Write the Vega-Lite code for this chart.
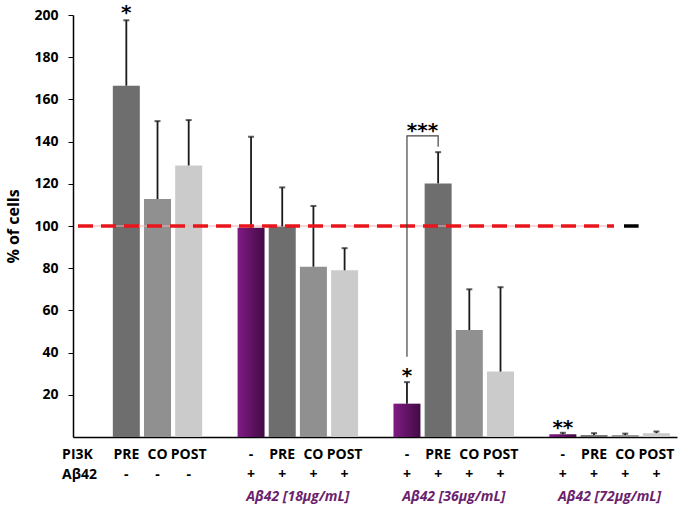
{
  "$schema": "https://vega.github.io/schema/vega-lite/v6.json",
  "width": 604,
  "height": 422,
  "autosize": "none",
  "padding": {"left": 73, "top": 15, "right": 6, "bottom": 72},
  "config": {"view": {"stroke": null}, "font": "Open Sans"},
  "datasets": {
    "bars": [
      {"slot": 1, "cond": "PRE", "value": 166.5, "err": 197.5},
      {"slot": 2, "cond": "CO", "value": 112.8, "err": 149.7},
      {"slot": 3, "cond": "POST", "value": 128.7, "err": 150.2},
      {"slot": 5, "cond": "-", "value": 99.2, "err": 142.3},
      {"slot": 6, "cond": "PRE", "value": 99.8, "err": 118.3},
      {"slot": 7, "cond": "CO", "value": 80.7, "err": 109.5},
      {"slot": 8, "cond": "POST", "value": 79.0, "err": 89.5},
      {"slot": 10, "cond": "-", "value": 15.8, "err": 26.0},
      {"slot": 11, "cond": "PRE", "value": 120.2, "err": 135.0},
      {"slot": 12, "cond": "CO", "value": 50.7, "err": 70.0},
      {"slot": 13, "cond": "POST", "value": 31.0, "err": 71.0},
      {"slot": 15, "cond": "-", "value": 1.3, "err": 2.0},
      {"slot": 16, "cond": "PRE", "value": 0.9, "err": 1.8},
      {"slot": 17, "cond": "CO", "value": 0.9, "err": 1.6},
      {"slot": 18, "cond": "POST", "value": 1.8, "err": 2.6}
    ],
    "labels": [
      {"slot": 1, "pi3k": "PRE", "abeta": "-"},
      {"slot": 2, "pi3k": "CO", "abeta": "-"},
      {"slot": 3, "pi3k": "POST", "abeta": "-"},
      {"slot": 5, "pi3k": "-", "abeta": "+"},
      {"slot": 6, "pi3k": "PRE", "abeta": "+"},
      {"slot": 7, "pi3k": "CO", "abeta": "+"},
      {"slot": 8, "pi3k": "POST", "abeta": "+"},
      {"slot": 10, "pi3k": "-", "abeta": "+"},
      {"slot": 11, "pi3k": "PRE", "abeta": "+"},
      {"slot": 12, "pi3k": "CO", "abeta": "+"},
      {"slot": 13, "pi3k": "POST", "abeta": "+"},
      {"slot": 15, "pi3k": "-", "abeta": "+"},
      {"slot": 16, "pi3k": "PRE", "abeta": "+"},
      {"slot": 17, "pi3k": "CO", "abeta": "+"},
      {"slot": 18, "pi3k": "POST", "abeta": "+"}
    ],
    "headers": [{"slot": -1.06, "pi3k": "PI3K", "abeta": "Aβ42"}],
    "groups": [
      {"slot": 6.5, "label": "Aβ42 [18µg/mL]"},
      {"slot": 11.5, "label": "Aβ42 [36µg/mL]"},
      {"slot": 16.5, "label": "Aβ42 [72µg/mL]"}
    ],
    "stars": [
      {"slot": 1, "level": 201, "text": "*"},
      {"slot": 10, "level": 29, "text": "*"},
      {"slot": 15, "level": 4.5, "text": "**"},
      {"slot": 10.5, "level": 145, "text": "***"}
    ],
    "bracket": [
      {"order": 1, "slot": 10, "level": 38},
      {"order": 2, "slot": 10, "level": 142.7},
      {"order": 3, "slot": 11, "level": 142.7},
      {"order": 4, "slot": 11, "level": 137.6}
    ],
    "one": [{}]
  },
  "layer": [
    {
      "data": {"name": "bars"},
      "transform": [{"filter": "datum.cond !== '-'"}],
      "mark": {"type": "bar", "orient": "vertical", "width": 27},
      "encoding": {
        "x": {"field": "slot", "type": "quantitative",
              "scale": {"domain": [-0.55, 18.5], "nice": false, "zero": false},
              "axis": {"labels": false, "ticks": false, "grid": false, "title": null, "domainColor": "#000000", "domainWidth": 1.5}},
        "y": {"field": "value", "type": "quantitative",
              "scale": {"domain": [0, 200], "nice": false},
              "axis": {"values": [20, 40, 60, 80, 100, 120, 140, 160, 180, 200], "grid": false,
                       "title": "% of cells", "titleFont": "Open Sans", "titleFontSize": 16, "titleFontWeight": "bold", "titleColor": "#000000", "titlePadding": 12,
                       "labelFont": "Open Sans", "labelFontSize": 14, "labelFontWeight": "bold", "labelColor": "#000000", "labelPadding": 10,
                       "tickSize": 5, "tickColor": "#000000", "domainColor": "#000000", "domainWidth": 1.5}},
        "y2": {"datum": 0},
        "color": {"field": "cond", "type": "nominal",
                  "scale": {"domain": ["PRE", "CO", "POST"], "range": ["#6e6e6e", "#909090", "#cbcbcb"]},
                  "legend": null}
      }
    },
    {
      "data": {"name": "bars"},
      "transform": [{"filter": "datum.cond === '-'"}],
      "mark": {"type": "bar", "orient": "vertical", "width": 27,
               "fill": {"gradient": "linear", "x1": 0, "y1": 0, "x2": 1, "y2": 0,
                        "stops": [{"offset": 0, "color": "#801b84"}, {"offset": 1, "color": "#420b45"}]}},
      "encoding": {
        "x": {"field": "slot", "type": "quantitative"},
        "y": {"field": "value", "type": "quantitative"},
        "y2": {"datum": 0}
      }
    },
    {
      "data": {"name": "one"},
      "mark": {"type": "rule", "color": "#f6b0b0", "strokeWidth": 1},
      "encoding": {"x": {"datum": -0.55}, "x2": {"datum": 16.64}, "y": {"datum": 100}}
    },
    {
      "data": {"name": "bars"},
      "mark": {"type": "rule", "color": "#1a1a1a", "strokeWidth": 1.8},
      "encoding": {
        "x": {"field": "slot", "type": "quantitative"},
        "y": {"field": "value", "type": "quantitative"},
        "y2": {"field": "err"}
      }
    },
    {
      "data": {"name": "bars"},
      "mark": {"type": "tick", "orient": "horizontal", "color": "#1a1a1a", "size": 6, "thickness": 2},
      "encoding": {
        "x": {"field": "slot", "type": "quantitative"},
        "y": {"field": "err", "type": "quantitative"}
      }
    },
    {
      "data": {"name": "one"},
      "mark": {"type": "rule", "color": "#e8161b", "strokeWidth": 3.5, "strokeDash": [15, 8]},
      "encoding": {"x": {"datum": -0.55}, "x2": {"datum": 16.64}, "y": {"datum": 100}}
    },
    {
      "data": {"name": "one"},
      "mark": {"type": "rule", "color": "#000000", "strokeWidth": 3.5},
      "encoding": {"x": {"datum": 16.96}, "x2": {"datum": 17.43}, "y": {"datum": 100}}
    },
    {
      "data": {"name": "bracket"},
      "mark": {"type": "line", "color": "#444444", "strokeWidth": 1.2},
      "encoding": {
        "x": {"field": "slot", "type": "quantitative"},
        "y": {"field": "level", "type": "quantitative"},
        "order": {"field": "order"}
      }
    },
    {
      "data": {"name": "stars"},
      "mark": {"type": "text", "font": "DejaVu Sans", "fontWeight": "bold", "fontSize": 20, "baseline": "middle", "align": "center", "color": "#000000"},
      "encoding": {
        "x": {"field": "slot", "type": "quantitative"},
        "y": {"field": "level", "type": "quantitative"},
        "text": {"field": "text"}
      }
    },
    {
      "data": {"name": "labels"},
      "mark": {"type": "text", "fontWeight": "bold", "fontSize": 14, "baseline": "middle", "align": "center", "color": "#000000"},
      "encoding": {
        "x": {"field": "slot", "type": "quantitative"},
        "y": {"datum": -8.5},
        "text": {"field": "pi3k"}
      }
    },
    {
      "data": {"name": "labels"},
      "mark": {"type": "text", "fontWeight": "bold", "fontSize": 14, "baseline": "middle", "align": "center", "color": "#000000"},
      "encoding": {
        "x": {"field": "slot", "type": "quantitative"},
        "y": {"datum": -18},
        "text": {"field": "abeta"}
      }
    },
    {
      "data": {"name": "headers"},
      "mark": {"type": "text", "fontWeight": "bold", "fontSize": 14, "baseline": "middle", "align": "left", "color": "#000000"},
      "encoding": {
        "x": {"field": "slot", "type": "quantitative"},
        "y": {"datum": -8.5},
        "text": {"field": "pi3k"}
      }
    },
    {
      "data": {"name": "headers"},
      "mark": {"type": "text", "fontWeight": "bold", "fontSize": 14, "baseline": "middle", "align": "left", "color": "#000000"},
      "encoding": {
        "x": {"field": "slot", "type": "quantitative"},
        "y": {"datum": -18},
        "text": {"field": "abeta"}
      }
    },
    {
      "data": {"name": "groups"},
      "mark": {"type": "text", "fontWeight": "bold", "fontStyle": "italic", "fontSize": 14, "baseline": "middle", "align": "center", "color": "#6b1f6e"},
      "encoding": {
        "x": {"field": "slot", "type": "quantitative"},
        "y": {"datum": -28.4},
        "text": {"field": "label"}
      }
    }
  ]
}
